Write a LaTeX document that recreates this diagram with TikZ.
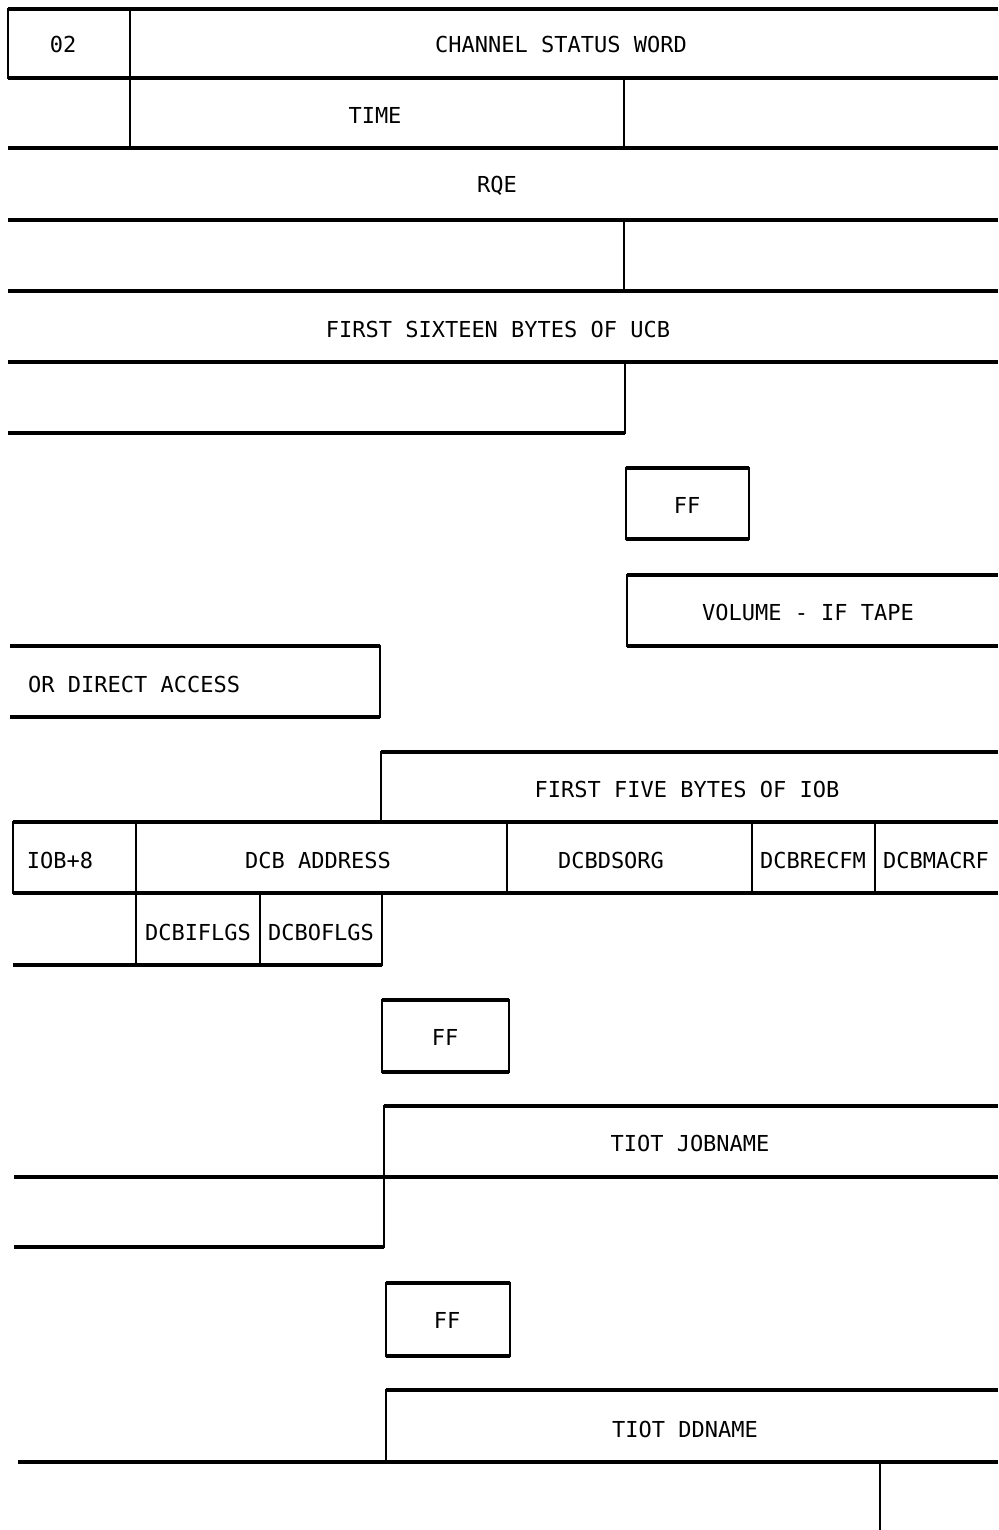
\documentclass[tikz,border=0pt]{standalone}
\usepackage{fontspec}
\setmonofont{DejaVu Sans Mono}
\usepackage{tikz}

\begin{document}
\begin{tikzpicture}[x=1pt, y=-1pt,
  hrule/.style={line width=3.2pt},
  vrule/.style={line width=1.6pt, line cap=rect},
  fld/.style={font=\ttfamily\fontsize{22}{26}\selectfont, inner sep=0pt}
]
\useasboundingbox (0,0) rectangle (998,1530);

\draw[hrule] (8,9) -- (998,9) (8,78) -- (998,78) (8,148) -- (998,148)
  (8,220) -- (998,220) (8,291) -- (998,291) (8,362) -- (998,362) (8,433) -- (625,433);
\draw[vrule] (8,9) -- (8,78) (130,9) -- (130,148) (624,78) -- (624,148)
  (624,220) -- (624,291) (625,362) -- (625,433);

\draw[hrule] (626,468) -- (749,468) (626,539) -- (749,539);
\draw[vrule] (626,468) -- (626,539) (749,468) -- (749,539);

\draw[hrule] (627,575) -- (998,575) (627,646) -- (998,646);
\draw[vrule] (627,575) -- (627,646);
\draw[hrule] (10,646) -- (380,646) (10,717) -- (380,717);
\draw[vrule] (380,646) -- (380,717);

\draw[hrule] (381,752) -- (998,752) (13,822) -- (998,822) (13,893) -- (998,893) (13,965) -- (382,965);
\draw[vrule] (381,752) -- (381,822) (13,822) -- (13,893) (136,822) -- (136,965)
  (507,822) -- (507,893) (752,822) -- (752,893) (875,822) -- (875,893)
  (260,893) -- (260,965) (382,893) -- (382,965);

\draw[hrule] (382,1000) -- (509,1000) (382,1072) -- (509,1072);
\draw[vrule] (382,1000) -- (382,1072) (509,1000) -- (509,1072);

\draw[hrule] (384,1106) -- (998,1106) (14,1177) -- (998,1177) (14,1247) -- (384,1247);
\draw[vrule] (384,1106) -- (384,1247);

\draw[hrule] (386,1283) -- (510,1283) (386,1356) -- (510,1356);
\draw[vrule] (386,1283) -- (386,1356) (510,1283) -- (510,1356);

\draw[hrule] (386,1390) -- (998,1390) (18,1462) -- (998,1462);
\draw[vrule] (386,1390) -- (386,1462) (880,1462) -- (880,1530);

\node[fld] (code) at (63,44) {02};
\node[fld] (csw) at (561,44) {CHANNEL STATUS WORD};
\node[fld] (time) at (375,115) {TIME};
\node[fld] (rqe) at (497,186) {RQE};
\node[fld] (ucb) at (498,329) {FIRST SIXTEEN BYTES OF UCB};
\node[fld] (ffa) at (687,505) {FF};
\node[fld] (volume) at (808,612) {VOLUME - IF TAPE};
\node[fld, anchor=west] (direct) at (28,684) {OR DIRECT ACCESS};
\node[fld] (iobhead) at (687,789) {FIRST FIVE BYTES OF IOB};
\node[fld] (iob) at (60,860) {IOB+8};
\node[fld] (dcbaddr) at (318,860) {DCB ADDRESS};
\node[fld] (dsorg) at (611,860) {DCBDSORG};
\node[fld] (recfm) at (813,860) {DCBRECFM};
\node[fld] (macrf) at (936,860) {DCBMACRF};
\node[fld] (iflgs) at (198,932) {DCBIFLGS};
\node[fld] (oflgs) at (321,932) {DCBOFLGS};
\node[fld] (ffb) at (445,1037) {FF};
\node[fld] (jobname) at (690,1143) {TIOT JOBNAME};
\node[fld] (ffc) at (447,1320) {FF};
\node[fld] (ddname) at (685,1429) {TIOT DDNAME};
\end{tikzpicture}
\end{document}
